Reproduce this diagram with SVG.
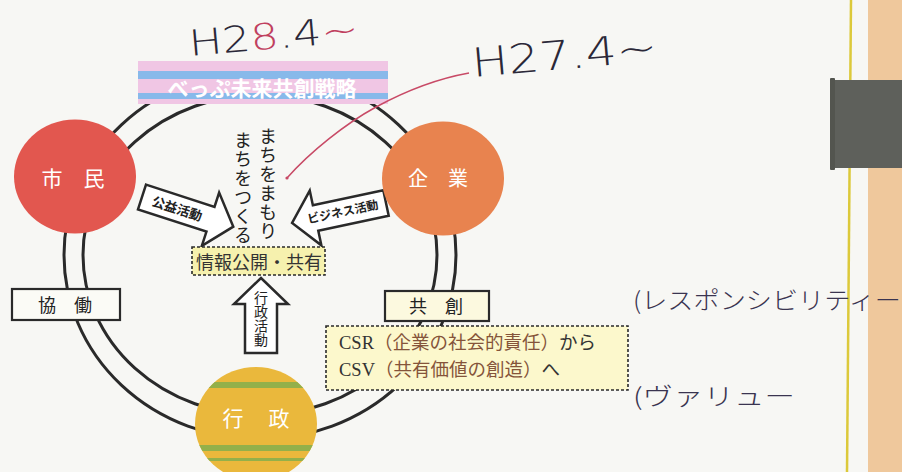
<svg xmlns="http://www.w3.org/2000/svg" width="902" height="472" viewBox="0 0 902 472">
<defs>
<style>
.jp{font-family:"Noto Sans CJK JP","Noto Sans CJK SC",sans-serif}
.ring{fill:none;stroke:#2a2a2a;stroke-width:3}
.blk{fill:#fff;stroke:#2a2a2a;stroke-width:2.5;stroke-linejoin:miter}
.box{stroke:#2a2a2a;stroke-width:2.2}
.dash{stroke:#2a2a2a;stroke-width:1.6;stroke-dasharray:3 2}
.ctext{fill:#fff;font-size:21px;text-anchor:middle}
.alab{fill:#222;font-size:13px;font-weight:700;text-anchor:middle}
.vert{writing-mode:vertical-rl;fill:#222}
.hand{font-family:"DejaVu Sans","Liberation Sans",sans-serif;font-weight:200;fill:#2b2838}
.handjp{font-family:"Noto Sans CJK JP",sans-serif;font-weight:300;fill:#3a3450}
</style>
<clipPath id="gyoclip"><ellipse cx="256" cy="424" rx="61" ry="57"/></clipPath>
</defs>

<rect x="0" y="0" width="902" height="472" fill="#f7f7f4"/>

<!-- right side page edge -->
<rect x="868" y="0" width="34" height="472" fill="#efc89c"/>
<line x1="851" y1="0" x2="847" y2="472" stroke="#dcc93a" stroke-width="2.5"/>
<rect x="832" y="80" width="70" height="88" fill="#5e605b"/>
<rect x="830" y="78" width="5" height="92" rx="1" fill="#53554f"/>

<g id="connectors">
  <ellipse class="ring" cx="260" cy="255" rx="196" ry="184"/>
  <ellipse class="ring" cx="260" cy="255" rx="177" ry="160"/>
  <g id="arrow-koeki" transform="translate(142,197) rotate(18)">
    <polygon class="blk" points="0,-13 72,-13 72,-28 96,0 72,28 72,13 0,13"/>
    <text class="jp alab" x="37" y="5">公益活動</text>
  </g>
  <g id="arrow-business">
    <polygon class="blk" transform="translate(386,203) rotate(168)" points="0,-13 72,-13 72,-28 96,0 72,28 72,13 0,13"/>
    <text class="jp alab" style="font-size:12px" transform="translate(343,212) rotate(-12)" x="0" y="4">ビジネス活動</text>
  </g>
  <g id="arrow-gyosei">
    <polygon class="blk" points="261,278 288,304 277,304 277,353 245,353 245,304 234,304"/>
    <text class="jp vert" x="261" y="291" font-size="14">行政活動</text>
  </g>
</g>

<g id="banner">
  <rect x="138" y="61" width="250" height="43" fill="#f0c6e4"/>
  <rect x="138" y="71" width="250" height="8" fill="#88b9ea"/>
  <rect x="138" y="93" width="250" height="6" fill="#88b9ea"/>
  <text class="jp" x="262" y="96" font-size="21" font-weight="700" fill="#fff" text-anchor="middle">べっぷ未来共創戦略</text>
</g>

<g id="shimin">
  <ellipse cx="75" cy="176.5" rx="61" ry="57" fill="#e2574f"/>
  <text class="jp ctext" x="73" y="186">市　民</text>
</g>

<g id="kigyo">
  <ellipse cx="443" cy="178.5" rx="61" ry="57" fill="#e8834f"/>
  <text class="jp ctext" x="438" y="186" style="font-size:20px">企　業</text>
</g>

<g id="gyosei">
  <ellipse cx="256" cy="424" rx="61" ry="57" fill="#eab83c"/>
  <g clip-path="url(#gyoclip)" fill="#93b04a">
    <rect x="190" y="382" width="140" height="6"/>
    <rect x="190" y="445" width="140" height="6"/>
    <rect x="190" y="458" width="140" height="3"/>
  </g>
  <text class="jp ctext" x="257" y="426" letter-spacing="2">行　政</text>
</g>

<g id="kyodo">
  <rect class="box" x="12" y="289" width="108" height="31" fill="#fbfbf6"/>
  <text class="jp" x="65" y="312" font-size="18" fill="#222" text-anchor="middle">協　働</text>
</g>

<g id="kyoso">
  <rect class="box" x="385" y="291" width="104" height="30" fill="#fcf9df"/>
  <text class="jp" x="436" y="313" font-size="18" fill="#222" text-anchor="middle">共　創</text>
</g>

<g id="joho">
  <rect class="dash" x="192" y="247" width="133" height="28" fill="#f6f1ae"/>
  <text class="jp" x="259" y="269" font-size="18" fill="#333" text-anchor="middle">情報公開・共有</text>
</g>

<g id="machi">
  <text class="jp vert" x="268" y="127" font-size="18" letter-spacing="1">まちをまもり</text>
  <text class="jp vert" x="243" y="131" font-size="18" letter-spacing="1">まちをつくる</text>
</g>

<g id="csr">
  <rect class="dash" x="326" y="326" width="302" height="64" fill="#fcf8cc"/>
  <text class="jp" x="339" y="349" font-size="18.5" fill="#333"><tspan font-family="Liberation Serif, serif">CSR</tspan><tspan fill="#85543a">（企業の社会的責任）</tspan>から</text>
  <text class="jp" x="339" y="376" font-size="18.5" fill="#333"><tspan font-family="Liberation Serif, serif">CSV</tspan><tspan fill="#85543a">（共有価値の創造）</tspan>へ</text>
</g>

<g id="handwriting">
  <path d="M469,73 C430,80 400,94 376,107 C345,124 310,152 287,178" fill="none" stroke="#c84a66" stroke-width="1.5"/>
  <circle cx="287" cy="178" r="1.6" fill="#c84a66"/>
  <text class="hand" x="190" y="56" font-size="36" textLength="170" lengthAdjust="spacingAndGlyphs" transform="rotate(-5 190 56)">H2<tspan fill="#c0405e">8</tspan>.4<tspan fill="#c0405e">~</tspan></text>
  <text class="hand" x="473" y="77" font-size="40" textLength="186" lengthAdjust="spacingAndGlyphs" transform="rotate(-5 473 77)">H27.4~</text>
  <text class="handjp" x="633" y="309" font-size="24" textLength="268" lengthAdjust="spacingAndGlyphs">(レスポンシビリティー</text>
  <text class="handjp" x="633" y="405" font-size="24" textLength="162" lengthAdjust="spacingAndGlyphs">(ヴァリュー</text>
</g>
</svg>
